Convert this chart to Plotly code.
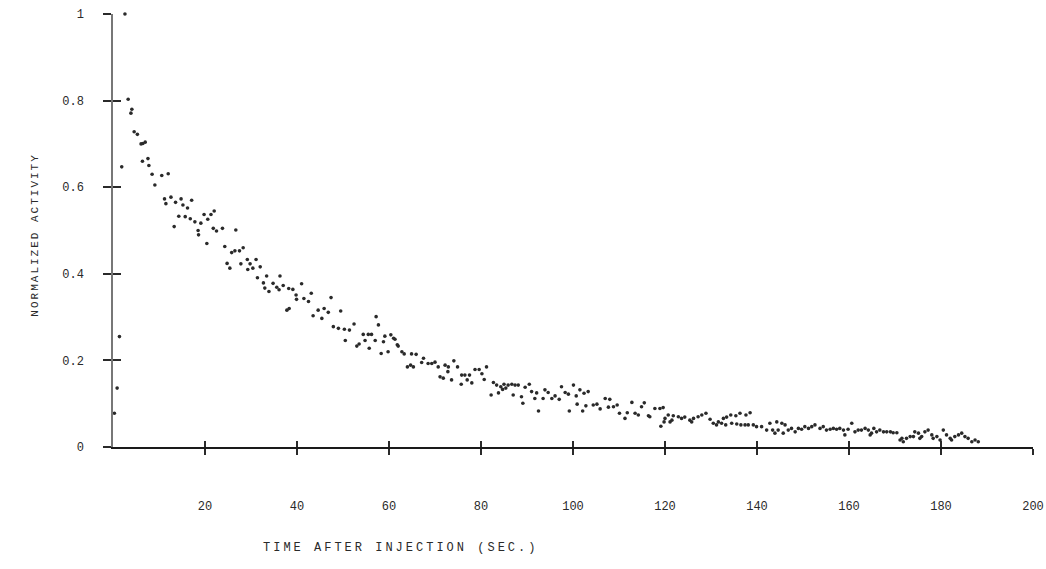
import plotly.graph_objects as go

# Time after injection (s) and normalized activity
time_s = [
    0.3, 0.9, 1.4, 1.9, 2.6, 3.3, 4.1, 3.9, 4.6, 5.3, 6.1, 6.5, 7.0, 6.4, 7.6, 7.8, 8.5, 10.6, 12.0, 9.1,
    11.2, 11.5, 12.6, 13.6, 14.8, 15.2, 16.2, 17.1, 13.3, 14.3, 15.7, 16.8, 17.8, 19.1, 18.5, 18.6, 19.8, 20.6, 21.3, 22.0,
    20.4, 21.8, 22.5, 23.8, 26.7, 24.3, 25.8, 26.5, 27.5, 28.3, 24.8, 25.4, 27.8, 29.2, 29.8, 31.1, 32.0, 29.3, 30.4, 31.4,
    33.4, 36.3, 32.7, 34.8, 35.6, 37.0, 38.2, 39.1, 41.0, 33.0, 33.9, 36.1, 39.8, 39.9, 41.5, 42.5, 43.1, 47.4, 49.5, 37.8,
    38.3, 43.5, 44.6, 45.4, 45.9, 46.8, 57.2, 47.9, 49.0, 50.3, 51.4, 52.4, 57.7, 50.5, 54.4, 55.5, 56.2, 54.8, 57.0, 53.0,
    53.5, 55.7, 59.1, 60.4, 61.3, 58.8, 58.3, 59.8, 62.0, 62.8, 63.3, 64.9, 65.9, 61.0, 61.8, 64.0, 64.7, 65.3, 67.1, 67.5,
    68.5, 69.3, 70.0, 70.7, 72.2, 72.9, 74.1, 74.9, 71.1, 71.8, 72.8, 73.6, 75.8, 76.5, 77.5, 75.7, 77.0, 78.0, 78.7, 79.6,
    81.2, 80.2, 80.7, 82.7, 83.4, 84.3, 85.0, 85.9, 86.7, 87.4, 88.1, 82.2, 83.8, 84.7, 85.4, 87.0, 88.8, 89.1, 89.6, 90.5,
    91.0, 92.1, 92.5, 91.7, 93.5, 93.9, 94.6, 95.4, 96.1, 97.0, 97.5, 98.3, 99.0, 100.1, 100.7, 99.2, 101.5, 102.4, 103.3, 100.9,
    102.1, 102.8, 104.4, 105.2, 105.9, 107.0, 108.0, 107.7, 108.8, 109.6, 110.1, 111.3, 111.8, 112.8, 113.5, 114.2, 115.5, 114.9, 116.4, 116.7,
    117.8, 118.9, 119.6, 119.1, 120.0, 120.7, 121.8, 121.1, 122.9, 119.8, 121.5, 123.6, 124.3, 125.4, 126.2, 127.2, 128.0, 128.9, 125.8, 129.8,
    130.5, 131.6, 132.7, 133.4, 134.3, 135.4, 136.3, 137.6, 138.5, 131.2, 132.3, 133.2, 134.5, 135.6, 136.5, 137.4, 138.1, 139.2, 139.9, 141.0,
    142.1, 142.8, 143.4, 143.9, 144.6, 144.3, 145.4, 146.1, 145.7, 146.8, 147.5, 148.3, 149.0, 149.7, 150.4, 151.2, 151.9, 152.6, 153.7, 154.4,
    155.1, 155.9, 156.6, 157.3, 158.0, 158.8, 159.1, 159.8, 160.6, 161.3, 162.0, 162.7, 163.5, 164.2, 164.6, 164.9, 165.4, 166.0, 166.7, 167.5,
    168.2, 169.0, 169.6, 170.4, 171.1, 171.5, 171.8, 172.5, 173.3, 174.3, 175.1, 175.8, 176.5, 177.2, 174.0, 175.4, 178.0, 178.3, 179.1, 179.8,
    180.5, 181.2, 182.0, 182.3, 183.0, 183.8, 184.5, 185.2, 185.9, 186.7, 187.4, 188.1,
]
activity = [
    0.078, 0.136, 0.255, 0.647, 1.0, 0.803, 0.78, 0.771, 0.728, 0.722, 0.70, 0.701, 0.704, 0.66, 0.666, 0.65, 0.63, 0.627, 0.631, 0.605,
    0.573, 0.562, 0.577, 0.565, 0.573, 0.559, 0.552, 0.570, 0.509, 0.533, 0.532, 0.527, 0.52, 0.517, 0.50, 0.49, 0.537, 0.526, 0.537, 0.545,
    0.47, 0.505, 0.499, 0.505, 0.501, 0.463, 0.449, 0.453, 0.453, 0.46, 0.424, 0.413, 0.423, 0.433, 0.423, 0.433, 0.416, 0.41, 0.413, 0.391,
    0.395, 0.395, 0.379, 0.378, 0.369, 0.373, 0.366, 0.364, 0.377, 0.367, 0.359, 0.363, 0.351, 0.341, 0.343, 0.336, 0.355, 0.345, 0.314, 0.316,
    0.32, 0.303, 0.316, 0.297, 0.32, 0.311, 0.301, 0.278, 0.274, 0.272, 0.27, 0.284, 0.282, 0.246, 0.26, 0.26, 0.26, 0.246, 0.246, 0.233,
    0.238, 0.228, 0.256, 0.259, 0.249, 0.243, 0.216, 0.22, 0.233, 0.22, 0.215, 0.215, 0.214, 0.251, 0.236, 0.185, 0.189, 0.185, 0.195, 0.205,
    0.193, 0.193, 0.196, 0.185, 0.189, 0.185, 0.199, 0.185, 0.162, 0.159, 0.174, 0.155, 0.166, 0.166, 0.166, 0.145, 0.155, 0.148, 0.179, 0.179,
    0.185, 0.169, 0.156, 0.149, 0.143, 0.139, 0.145, 0.143, 0.145, 0.143, 0.143, 0.12, 0.125, 0.133, 0.136, 0.12, 0.116, 0.101, 0.138, 0.145,
    0.128, 0.125, 0.083, 0.112, 0.112, 0.132, 0.126, 0.112, 0.118, 0.11, 0.139, 0.126, 0.122, 0.143, 0.118, 0.083, 0.132, 0.124, 0.128, 0.099,
    0.083, 0.095, 0.097, 0.099, 0.088, 0.112, 0.11, 0.092, 0.093, 0.097, 0.078, 0.066, 0.079, 0.103, 0.078, 0.074, 0.102, 0.093, 0.072, 0.07,
    0.089, 0.089, 0.091, 0.048, 0.066, 0.074, 0.072, 0.058, 0.07, 0.058, 0.062, 0.066, 0.069, 0.062, 0.066, 0.07, 0.074, 0.078, 0.058, 0.064,
    0.055, 0.058, 0.066, 0.069, 0.074, 0.072, 0.078, 0.074, 0.079, 0.051, 0.055, 0.051, 0.055, 0.053, 0.051, 0.051, 0.051, 0.051, 0.047, 0.047,
    0.039, 0.055, 0.039, 0.032, 0.039, 0.058, 0.055, 0.051, 0.032, 0.039, 0.043, 0.035, 0.043, 0.041, 0.047, 0.043, 0.047, 0.051, 0.043, 0.047,
    0.039, 0.041, 0.043, 0.041, 0.043, 0.039, 0.028, 0.041, 0.055, 0.035, 0.039, 0.039, 0.043, 0.039, 0.028, 0.032, 0.043, 0.035, 0.039, 0.035,
    0.035, 0.035, 0.033, 0.033, 0.016, 0.02, 0.012, 0.02, 0.024, 0.035, 0.032, 0.024, 0.035, 0.039, 0.024, 0.02, 0.028, 0.02, 0.024, 0.016,
    0.039, 0.028, 0.02, 0.016, 0.024, 0.028, 0.032, 0.024, 0.02, 0.012, 0.016, 0.012,
]

x_tick_vals = [20, 40, 60, 80, 100, 120, 140, 160, 180, 200]
x_tick_text = ["20", "40", "60", "80", "100", "120", "140", "160", "180", "200"]
y_tick_vals = [0, 0.2, 0.4, 0.6, 0.8, 1]
y_tick_text = ["0", "0.2", "0.4", "0.6", "0.8", "1"]

FONT = "Liberation Mono, DejaVu Sans Mono, monospace"
INK = "#2a2a2a"

fig = go.Figure()
fig.add_trace(go.Scatter(
    x=time_s, y=activity, mode="markers",
    marker=dict(size=3.6, color=INK, line=dict(width=0)),
    cliponaxis=False, showlegend=False, hoverinfo="x+y",
))
# transparent helper trace so the overlay axes (inner halves of the crossing ticks) are drawn
fig.add_trace(go.Scatter(x=[x_tick_vals[0]], y=[y_tick_vals[0]], xaxis="x2", yaxis="y2",
                         mode="markers", marker=dict(opacity=0), showlegend=False,
                         hoverinfo="skip"))

fig.update_layout(
    width=1046, height=569,
    margin=dict(l=113, r=13, t=14, b=122, autoexpand=False),
    paper_bgcolor="white", plot_bgcolor="white",
    font=dict(family=FONT, size=12, color=INK),
    xaxis=dict(
        range=[0, 200], tickvals=x_tick_vals, ticktext=x_tick_text,
        ticks="outside", ticklen=6, tickwidth=1.5, tickcolor=INK,
        showline=True, linecolor="#1a1a1a", linewidth=2,
        showgrid=False, zeroline=False, ticklabelstandoff=41, automargin=False,
        tickfont=dict(family=FONT, size=12, color=INK),
    ),
    yaxis=dict(
        range=[0, 1], tickvals=y_tick_vals, ticktext=y_tick_text,
        ticks="outside", ticklen=8, tickwidth=2, tickcolor=INK,
        showline=True, linecolor="#777777", linewidth=1.5,
        showgrid=False, zeroline=False, ticklabelstandoff=17, automargin=False,
        tickfont=dict(family=FONT, size=12, color=INK),
    ),
    xaxis2=dict(
        overlaying="x", range=[0, 200], tickvals=x_tick_vals,
        ticks="inside", ticklen=6, tickwidth=1.5, tickcolor=INK,
        showticklabels=False, showline=False, showgrid=False, zeroline=False,
        side="bottom", automargin=False,
    ),
    yaxis2=dict(
        overlaying="y", range=[0, 1], tickvals=y_tick_vals,
        ticks="inside", ticklen=8, tickwidth=2, tickcolor=INK,
        showticklabels=False, showline=False, showgrid=False, zeroline=False,
        side="left", automargin=False,
    ),
    annotations=[
        dict(text='<span style="letter-spacing:3px">TIME AFTER INJECTION (SEC.)</span>',
             xref="paper", yref="paper",
             x=0.312, y=-0.233, xanchor="center", yanchor="middle",
             showarrow=False, font=dict(family=FONT, size=12, color=INK)),
        dict(text='<span style="letter-spacing:2px">NORMALIZED ACTIVITY</span>',
             xref="paper", yref="paper",
             x=-0.085, y=0.49, xanchor="center", yanchor="middle", textangle=-90,
             showarrow=False, font=dict(family=FONT, size=11, color=INK)),
    ],
)

fig.write_html("out.html")
